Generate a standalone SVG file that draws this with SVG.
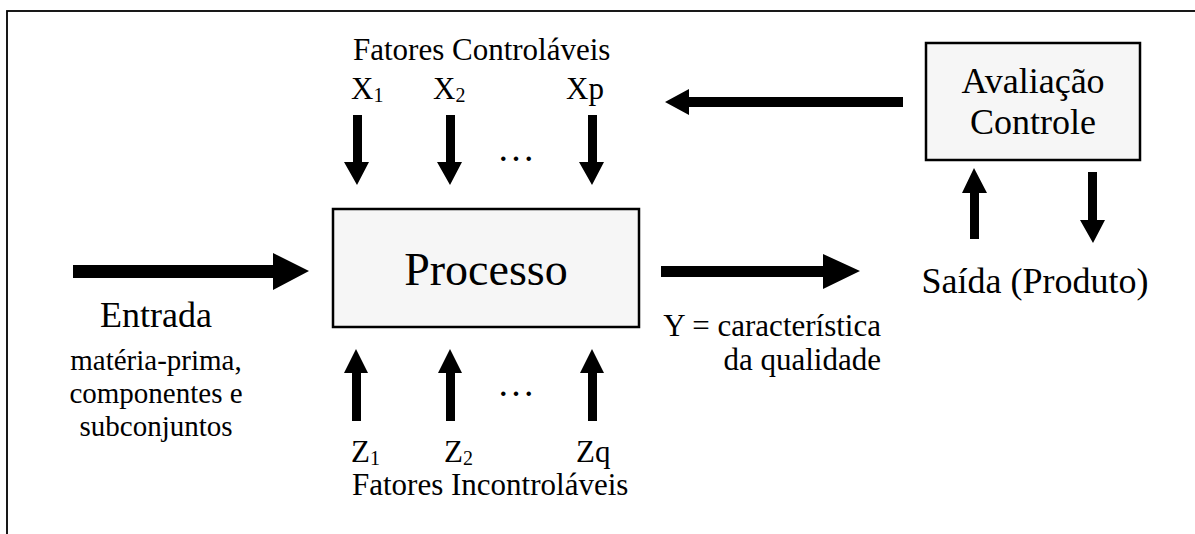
<svg xmlns="http://www.w3.org/2000/svg" width="1195" height="534" viewBox="0 0 1195 534">
<style>
.t{font-family:'Liberation Serif','Times New Roman','DejaVu Serif',serif;fill:#000}
.box{fill:#f6f6f6;stroke:#000;stroke-width:2.5}
.arr{fill:#000}
</style>
<rect x="0" y="0" width="1195" height="534" fill="#fff"/>
<rect x="7" y="11" width="1200" height="540" fill="none" stroke="#000" stroke-width="1.8"/>
<g id="labels-top" class="t">
<text x="353" y="60" font-size="31">Fatores Controláveis</text>
<text x="351" y="99" font-size="31">X<tspan font-size="20" dy="3">1</tspan></text>
<text x="433" y="99" font-size="31">X<tspan font-size="20" dy="3">2</tspan></text>
<text x="566" y="99" font-size="31">Xp</text>
<text x="516" y="161" font-size="38" text-anchor="middle">…</text>
</g>
<g id="processo" class="t">
<rect class="box" x="333" y="209" width="306" height="118"/>
<text x="486" y="285" font-size="46" text-anchor="middle">Processo</text>
</g>
<g id="avaliacao" class="t">
<rect class="box" x="926" y="43" width="214" height="117"/>
<text x="1033" y="93" font-size="36" text-anchor="middle">Avaliação</text>
<text x="1033" y="134" font-size="36" text-anchor="middle">Controle</text>
</g>
<g id="entrada" class="t">
<text x="156" y="327" font-size="36" text-anchor="middle">Entrada</text>
<text x="156" y="370" font-size="29" text-anchor="middle">matéria-prima,</text>
<text x="156" y="403" font-size="29" text-anchor="middle">componentes e</text>
<text x="156" y="436" font-size="29" text-anchor="middle">subconjuntos</text>
</g>
<g id="saida" class="t">
<text x="1035" y="293" font-size="36" text-anchor="middle">Saída (Produto)</text>
</g>
<g id="y-label" class="t">
<text x="881" y="336" font-size="31" text-anchor="end">Y = característica</text>
<text x="881" y="370" font-size="31" text-anchor="end">da qualidade</text>
</g>
<g id="labels-bottom" class="t">
<text x="351" y="462" font-size="31">Z<tspan font-size="20" dy="3">1</tspan></text>
<text x="444" y="462" font-size="31">Z<tspan font-size="20" dy="3">2</tspan></text>
<text x="576" y="462" font-size="31">Zq</text>
<text x="516" y="396" font-size="38" text-anchor="middle">…</text>
<text x="352" y="495" font-size="31">Fatores Incontroláveis</text>
</g>
<g id="connectors">
<polygon class="arr" points="353,115 362,115 362,162 369,162 357,185 344,162 353,162"/>
<polygon class="arr" points="446,115 455,115 455,162 462,162 450,185 437,162 446,162"/>
<polygon class="arr" points="588,115 597,115 597,162 604,162 592,185 579,162 588,162"/>
<polygon class="arr" points="352,421 361,421 361,373 368,373 356,349 344,373 352,373"/>
<polygon class="arr" points="446,421 455,421 455,373 462,373 450,349 438,373 446,373"/>
<polygon class="arr" points="588,421 597,421 597,373 604,373 592,349 580,373 588,373"/>
<polygon class="arr" points="73,265 273,265 273,253 309,271 273,290 273,278 73,278"/>
<polygon class="arr" points="661,266 823,266 823,254 860,271 823,289 823,277 661,277"/>
<polygon class="arr" points="903,97 689,97 689,89 665,102 689,115 689,107 903,107"/>
<polygon class="arr" points="970,239 979,239 979,193 987,193 974,168 962,193 970,193"/>
<polygon class="arr" points="1088,172 1097,172 1097,220 1105,220 1093,243 1080,220 1088,220"/>
</g>
</svg>
